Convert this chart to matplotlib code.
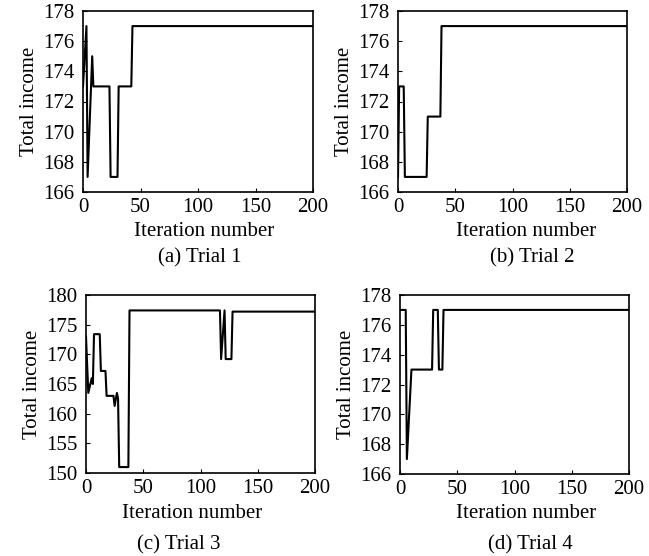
import matplotlib
matplotlib.use("Agg")
import matplotlib.pyplot as plt

# iteration / total income pairs
it1 = [0, 3, 4, 8, 9, 23, 24, 30, 31, 42, 43, 200]
inc1 = [173, 177, 167, 175, 173, 173, 167, 167, 173, 173, 177, 177]

it2 = [0, 1, 5, 6, 25, 26, 37, 38, 200]
inc2 = [167, 173, 173, 167, 167, 171, 171, 177, 177]

it3 = [0, 2, 5, 6, 7, 12, 13, 17, 18, 24, 25, 27, 28, 29, 37, 38,
       117, 118, 121, 122, 127, 128, 200]
inc3 = [173, 163.5, 166, 165, 173.4, 173.4, 167.2, 167.2, 163, 163, 161.3, 163.5,
        162.5, 151, 151, 177.4, 177.4, 169.2, 177.4, 169.2, 169.2, 177.2, 177.2]

it4 = [0, 5, 6, 10, 28, 29, 33, 34, 37, 38, 200]
inc4 = [177, 177, 167, 173, 173, 177, 177, 173, 173, 177, 177]

series = [(it1, inc1), (it2, inc2), (it3, inc3), (it4, inc4)]
ylims = [(166, 178), (166, 178), (150, 180), (166, 178)]
ysteps = [2, 2, 5, 2]
captions = ["(a) Trial 1", "(b) Trial 2", "(c) Trial 3", "(d) Trial 4"]

plt.rcParams["font.family"] = ["Liberation Serif", "DejaVu Serif"]
plt.rcParams["font.size"] = 15

W, H = 649, 556
fig = plt.figure(figsize=(W / 100, H / 100), dpi=100)

# axes boxes in pixels: left, top, right, bottom
boxes = [(83, 11, 313, 192), (398, 11, 627, 192),
         (86, 295, 315, 473), (400, 295, 629, 474)]
# xlabel / caption centres in pixels
xlab_pos = [(204, 231), (526, 231), (192, 514), (526, 514)]
cap_pos = [(200, 258), (532, 258), (179, 545), (530, 545)]

for k, (x, y) in enumerate(series):
    l, t, r, b = boxes[k]
    ax = fig.add_axes([l / W, 1 - b / H, (r - l) / W, (b - t) / H])
    ax.plot(x, y, color="black", lw=1.5)
    ax.set_xlim(0, 200)
    ax.set_ylim(*ylims[k])
    ax.set_xticks(range(0, 201, 50))
    lo, hi = ylims[k]
    ax.set_yticks(range(lo, hi + 1, ysteps[k]))
    ax.tick_params(direction="in", length=3, width=0.8, top=False, right=False, pad=4)
    ax.tick_params(axis="y", pad=6)
    for sp in ax.spines.values():
        sp.set_linewidth(1.2)
    ax.set_ylabel("Total income", labelpad=3)
    fig.text(xlab_pos[k][0] / W, 1 - xlab_pos[k][1] / H, "Iteration number",
             ha="center", va="center")
    fig.text(cap_pos[k][0] / W, 1 - cap_pos[k][1] / H, captions[k],
             ha="center", va="center")

fig.savefig("out.png", dpi=100)
